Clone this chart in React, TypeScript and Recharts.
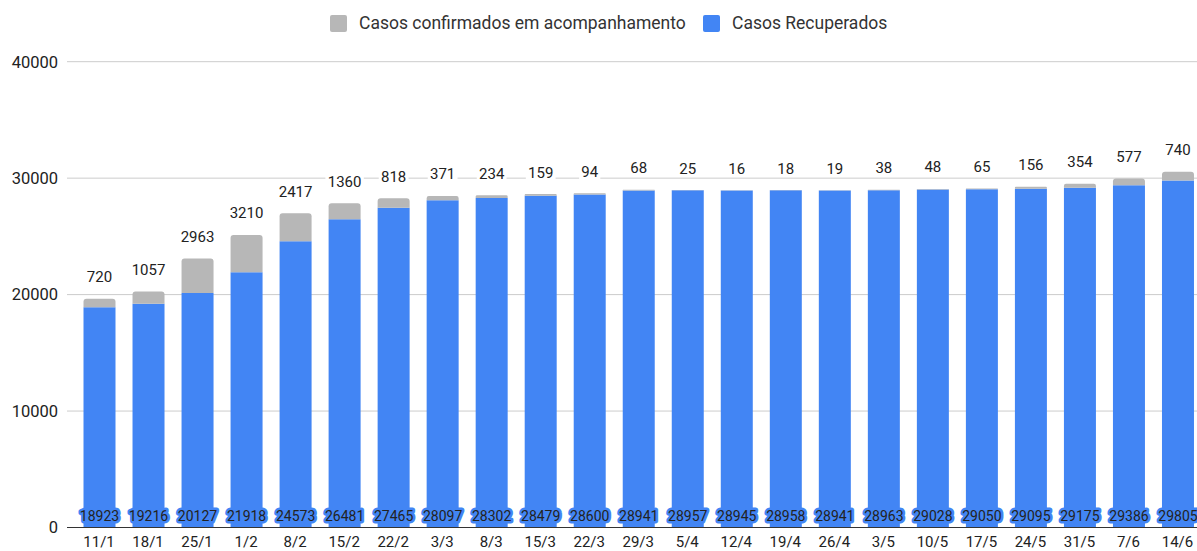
import React from 'react';
import { BarChart, Bar, XAxis, YAxis, CartesianGrid, LabelList } from 'recharts';

const categories = ['11/1','18/1','25/1','1/2','8/2','15/2','22/2','3/3','8/3','15/3','22/3','29/3','5/4','12/4','19/4','26/4','3/5','10/5','17/5','24/5','31/5','7/6','14/6'];
const recovered = [18923,19216,20127,21918,24573,26481,27465,28097,28302,28479,28600,28941,28957,28945,28958,28941,28963,29028,29050,29095,29175,29386,29805];
const following = [720,1057,2963,3210,2417,1360,818,371,234,159,94,68,25,16,18,19,38,48,65,156,354,577,740];
const yTicks = [0, 10000, 20000, 30000, 40000];
const seriesNames = ['Casos confirmados em acompanhamento', 'Casos Recuperados'];
const colors = { following: '#B7B7B7', recovered: '#4285F4' };

const data = categories.map((c, i) => ({ cat: c, recovered: recovered[i], following: following[i] }));

const FONT = 'Roboto, Arial, sans-serif';

const TopLabel = (props: any) => {
  const { x, y, width, value } = props;
  const cx = Number(x) + Number(width) / 2;
  const base = Number(y) - 16.5;
  const s = String(value);
  const w = s.length * 8.6 + 4;
  return (
    <g>
      <rect x={cx - w / 2} y={base - 13} width={w} height={16} fill="#ffffff" />
      <text x={cx} y={base} textAnchor="middle" fontSize={15} fontFamily={FONT} fill="#222222">{s}</text>
    </g>
  );
};

const BottomLabel = (props: any) => {
  const { x, y, width, height, value } = props;
  const cx = Number(x) + Number(width) / 2;
  const base = Number(y) + Number(height) - 6.5;
  return (
    <text x={cx} y={base} textAnchor="middle" fontSize={14} fontFamily={FONT} fill="#222222"
      stroke={colors.recovered} strokeWidth={5} strokeLinejoin="round" paintOrder="stroke">
      {String(value)}
    </text>
  );
};

const legendItems = [
  { name: seriesNames[0], color: colors.following, x: 330 },
  { name: seriesNames[1], color: colors.recovered, x: 703 },
];

export default function App() {
  return (
    <div style={{ position: 'absolute', left: 0, top: 0, width: 1197, height: 551, overflow: 'hidden', background: '#fff' }}>
      <BarChart width={1202} height={580} data={data} margin={{ top: 61.7, right: 0, left: 0, bottom: 22.5 }}>
        <CartesianGrid vertical={false} stroke="#cccccc" />
        <XAxis dataKey="cat" height={30} padding={{ left: 7.5, right: 0 }} tickLine={false} interval={0}
          axisLine={{ stroke: '#333333' }} tickMargin={2.5}
          tick={{ fontSize: 15, fill: '#222222', fontFamily: FONT }} />
        <YAxis width={67} domain={[0, 40000]} ticks={yTicks} axisLine={false} tickLine={false} tickMargin={3}
          tick={{ fontSize: 16.5, fill: '#222222', fontFamily: FONT }} />
        <Bar dataKey="recovered" stackId="a" fill={colors.recovered} barSize={32} isAnimationActive={false}>
          <LabelList dataKey="recovered" content={BottomLabel} />
        </Bar>
        <Bar dataKey="following" stackId="a" fill={colors.following} barSize={32} radius={[3, 3, 0, 0]} isAnimationActive={false}>
          <LabelList dataKey="following" content={TopLabel} />
        </Bar>
      </BarChart>
      <svg width={1197} height={45} style={{ position: 'absolute', left: 0, top: 0 }}>
        {legendItems.map((it) => (
          <g key={it.name}>
            <rect x={it.x} y={15} width={17} height={17} rx={2} fill={it.color} />
            <text x={it.x + 29} y={28.5} fontSize={17.5} fontFamily={FONT} fill="#333333">{it.name}</text>
          </g>
        ))}
      </svg>
    </div>
  );
}
